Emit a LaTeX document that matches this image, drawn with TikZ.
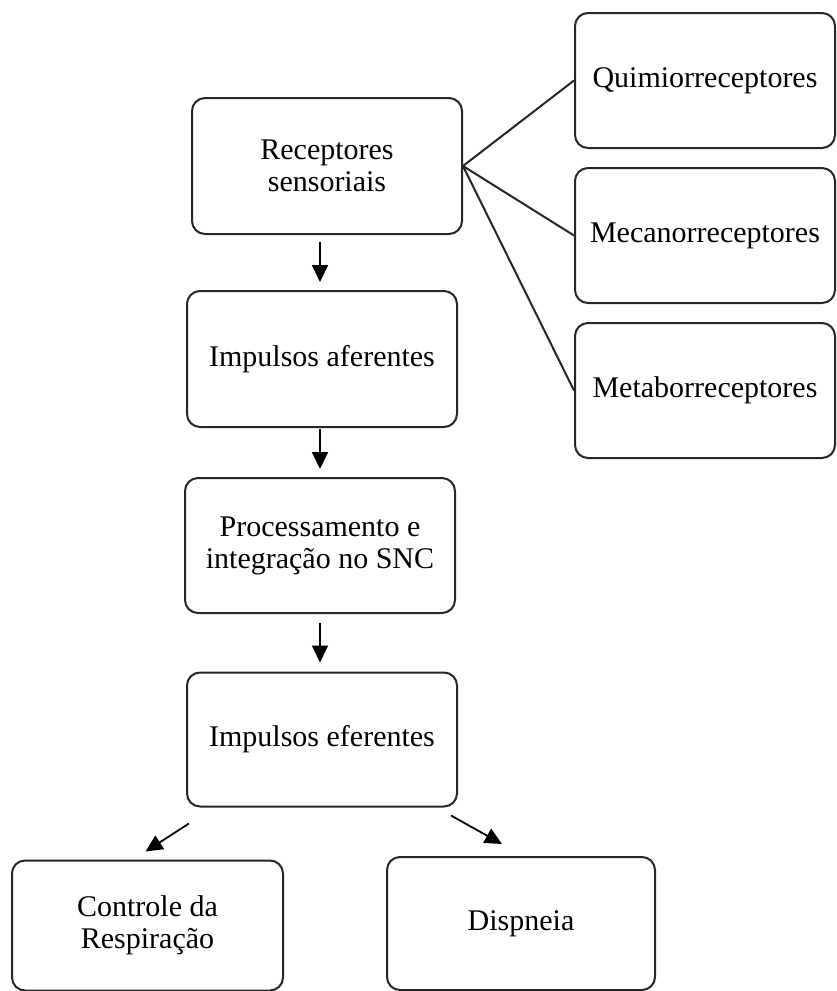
\documentclass[tikz,border=0pt]{standalone}
\usepackage{fontspec}
\setmainfont{Liberation Serif}
\usetikzlibrary{calc,arrows.meta}
\begin{document}
\begin{tikzpicture}[x=1pt,y=-1pt,
  box/.style={draw=black!85, line width=2pt, rounded corners=13pt, fill=white,
    align=center, inner sep=0pt, font=\fontsize{30}{32}\selectfont},
  link/.style={draw=black!85, line width=2pt},
  arr/.style={draw=black, line width=1.8pt, -{Triangle[length=17pt,width=16pt]}}]
\useasboundingbox (0,0) rectangle (836,991);
\node[box, minimum width=270pt, minimum height=136pt] (rec)  at (327,166)   {Receptores\\sensoriais};
\node[box, minimum width=260pt, minimum height=135pt] (quim) at (705,80.5)  {Quimiorreceptores};
\node[box, minimum width=260pt, minimum height=135pt] (meca) at (705,235.5) {Mecanorreceptores};
\node[box, minimum width=260pt, minimum height=135pt] (meta) at (705,390.5) {Metaborreceptores};
\node[box, minimum width=270pt, minimum height=136pt] (aff)  at (322,359)   {Impulsos aferentes};
\node[box, minimum width=270pt, minimum height=135pt] (proc) at (320,545.5) {Processamento e\\integração no SNC};
\node[box, minimum width=270pt, minimum height=134pt] (eff)  at (322,739.5) {Impulsos eferentes};
\node[box, minimum width=271pt, minimum height=130pt] (ctrl) at (147.5,925.5) {Controle da\\Respiração};
\node[box, minimum width=268pt, minimum height=133pt] (disp) at (521,923.5) {Dispneia};

\draw[link] (rec.east) -- (quim.west);
\draw[link] (rec.east) -- (meca.west);
\draw[link] (rec.east) -- (meta.west);

\draw[arr] ($(rec.south)+(-7,7)$) -- ($(aff.north)+(-2,-8)$);
\draw[arr] ($(aff.south)+(-2,1)$) -- ($(proc.north)+(0,-8)$);
\draw[arr] ($(proc.south)+(0,9)$) -- ($(eff.north)+(-2,-9)$);
\draw[arr] ($(eff.south west)+(3,16)$) -- ($(ctrl.north)+(-2,-8)$);
\draw[arr] ($(eff.south east)+(-7,8)$) -- ($(disp.north)+(-19,-12)$);
\end{tikzpicture}
\end{document}
